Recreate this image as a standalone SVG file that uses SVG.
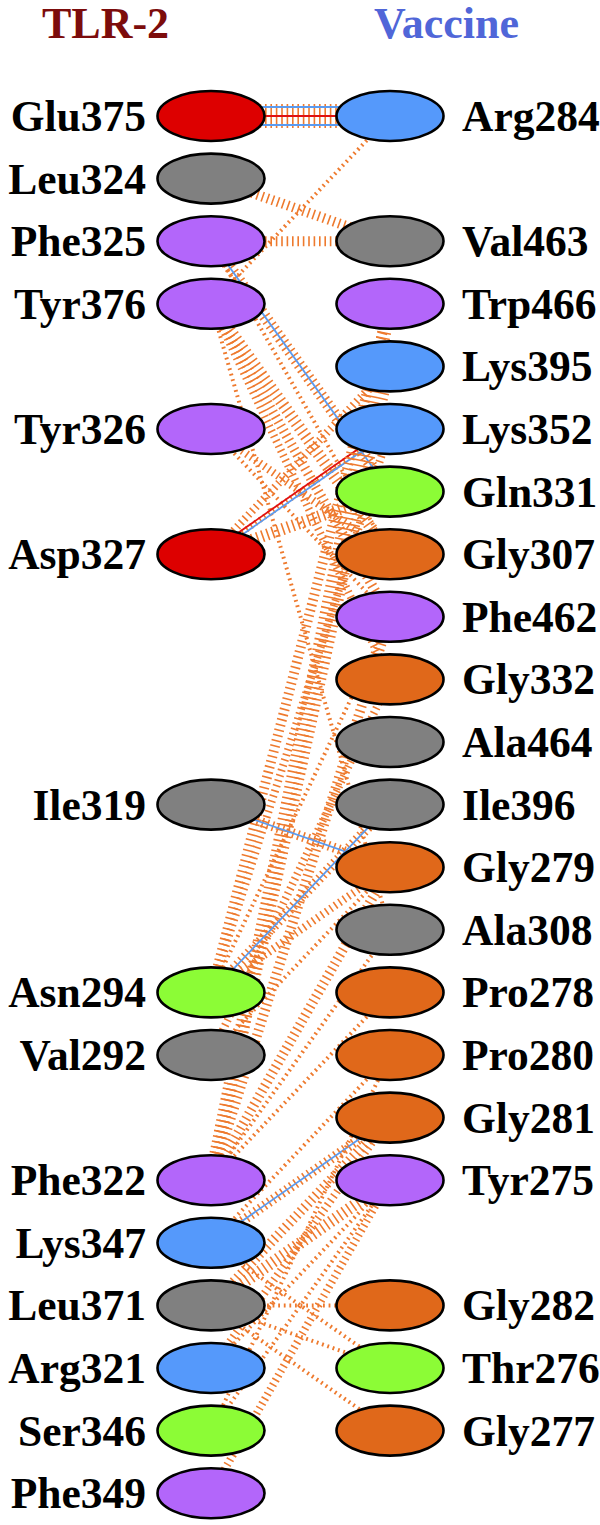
<svg xmlns="http://www.w3.org/2000/svg" width="600" height="1525" viewBox="0 0 600 1525">
<style>
.t{stroke:#ee7a2e;fill:none;stroke-dasharray:1.6 3.8}
.d{stroke:#ee7a2e;fill:none;stroke-width:4;stroke-dasharray:1.8 3.8}
.hb{stroke:#5b9bf0;stroke-width:1.8}
.sb{stroke:#e01010;stroke-width:1.8}
.n ellipse{stroke:#000;stroke-width:2.6}
.lbl{font-family:"Liberation Serif","Times New Roman",serif;font-weight:bold;font-size:43.5px;fill:#000}
.L{text-anchor:end}
.red{fill:#dd0000}.blu{fill:#5599fb}.gry{fill:#808080}.pur{fill:#b366fa}.grn{fill:#8cfc36}.org{fill:#e0681a}
.title{font-family:"Liberation Serif","Times New Roman",serif;font-weight:bold;font-size:44px}
</style>
<rect width="600" height="1525" fill="#fff"/>
<text class="title" x="42" y="38" fill="#7c0c0c">TLR-2</text>
<text class="title" x="374" y="38" fill="#5066d8">Vaccine</text>
<g id="connectors">
<line class="t" x1="211" y1="116" x2="390" y2="116" stroke-width="24"/>
<line class="hb" x1="211" y1="107" x2="390" y2="107"/>
<line class="hb" x1="211" y1="125" x2="390" y2="125"/>
<line class="sb" x1="211" y1="116" x2="390" y2="116"/>
<line class="d" x1="211" y1="303.8" x2="390" y2="116"/>
<line class="t" x1="211" y1="178.6" x2="390" y2="241.2" stroke-width="10"/>
<line class="t" x1="211" y1="241.2" x2="390" y2="241.2" stroke-width="10"/>
<line class="t" x1="211" y1="241.2" x2="390" y2="491.6" stroke-width="12"/>
<line class="hb" x1="211" y1="241.2" x2="390" y2="491.6"/>
<line class="d" x1="211" y1="241.2" x2="390" y2="554.2"/>
<line class="t" x1="211" y1="303.8" x2="390" y2="554.2" stroke-width="12"/>
<line class="t" x1="211" y1="303.8" x2="390" y2="616.8" stroke-width="10"/>
<line class="t" x1="211" y1="303.8" x2="390" y2="679.4" stroke-width="8"/>
<line class="d" x1="211" y1="303.8" x2="390" y2="929.8"/>
<line class="t" x1="211" y1="554.2" x2="390" y2="491.6" stroke-width="12"/>
<line class="t" x1="211" y1="429" x2="390" y2="554.2" stroke-width="8"/>
<line class="d" x1="211" y1="429" x2="390" y2="616.8"/>
<line class="t" x1="211" y1="554.2" x2="390" y2="366.4" stroke-width="8"/>
<line class="t" x1="211" y1="554.2" x2="390" y2="429" stroke-width="6"/>
<line class="sb" x1="209.9" y1="552.6" x2="388.9" y2="427.4"/>
<line class="hb" x1="212.1" y1="555.8" x2="391.1" y2="430.6"/>
<line class="t" x1="211" y1="1180.2" x2="390" y2="303.8" stroke-width="14"/>
<line class="t" x1="211" y1="1180.2" x2="390" y2="366.4" stroke-width="10"/>
<line class="t" x1="211" y1="992.4" x2="390" y2="303.8" stroke-width="10"/>
<line class="t" x1="211" y1="992.4" x2="390" y2="429" stroke-width="8"/>
<line class="t" x1="211" y1="1180.2" x2="390" y2="616.8" stroke-width="10"/>
<line class="t" x1="211" y1="1055" x2="390" y2="679.4" stroke-width="8"/>
<line class="d" x1="211" y1="992.4" x2="390" y2="616.8"/>
<line class="t" x1="211" y1="804.6" x2="390" y2="867.2" stroke-width="10"/>
<line class="hb" x1="211" y1="804.6" x2="390" y2="867.2"/>
<line class="t" x1="211" y1="992.4" x2="390" y2="804.6" stroke-width="10"/>
<line class="hb" x1="211" y1="992.4" x2="390" y2="804.6"/>
<line class="t" x1="211" y1="992.4" x2="390" y2="867.2" stroke-width="8"/>
<line class="d" x1="211" y1="1055" x2="390" y2="867.2"/>
<line class="t" x1="211" y1="1180.2" x2="390" y2="867.2" stroke-width="10"/>
<line class="d" x1="211" y1="1180.2" x2="390" y2="929.8"/>
<line class="d" x1="211" y1="1180.2" x2="390" y2="992.4"/>
<line class="d" x1="211" y1="1242.8" x2="390" y2="1055"/>
<line class="t" x1="211" y1="1242.8" x2="390" y2="1117.6" stroke-width="10"/>
<line class="hb" x1="211" y1="1242.8" x2="390" y2="1117.6"/>
<line class="d" x1="211" y1="1305.4" x2="390" y2="1305.4"/>
<line class="d" x1="211" y1="1305.4" x2="390" y2="1368"/>
<line class="d" x1="211" y1="1305.4" x2="390" y2="1430.6"/>
<line class="t" x1="211" y1="1305.4" x2="390" y2="1180.2" stroke-width="12"/>
<line class="t" x1="211" y1="1305.4" x2="390" y2="1117.6" stroke-width="10"/>
<line class="t" x1="211" y1="1368" x2="390" y2="1117.6" stroke-width="8"/>
<line class="d" x1="211" y1="1368" x2="390" y2="1180.2"/>
<line class="d" x1="211" y1="1430.6" x2="390" y2="1055"/>
<line class="d" x1="211" y1="1430.6" x2="390" y2="1180.2"/>
<line class="t" x1="211" y1="1493.2" x2="390" y2="1180.2" stroke-width="8"/>
<line class="d" x1="211" y1="1242.8" x2="390" y2="1368"/>
</g>
<g id="n-Glu375" class="n"><ellipse class="red" cx="211" cy="116" rx="53.5" ry="25"/><text class="lbl L" x="146" y="131">Glu375</text></g>
<g id="n-Leu324" class="n"><ellipse class="gry" cx="211" cy="178.6" rx="53.5" ry="25"/><text class="lbl L" x="146" y="193.6">Leu324</text></g>
<g id="n-Phe325" class="n"><ellipse class="pur" cx="211" cy="241.2" rx="53.5" ry="25"/><text class="lbl L" x="146" y="256.2">Phe325</text></g>
<g id="n-Tyr376" class="n"><ellipse class="pur" cx="211" cy="303.8" rx="53.5" ry="25"/><text class="lbl L" x="146" y="318.8">Tyr376</text></g>
<g id="n-Tyr326" class="n"><ellipse class="pur" cx="211" cy="429" rx="53.5" ry="25"/><text class="lbl L" x="146" y="444">Tyr326</text></g>
<g id="n-Asp327" class="n"><ellipse class="red" cx="211" cy="554.2" rx="53.5" ry="25"/><text class="lbl L" x="146" y="569.2">Asp327</text></g>
<g id="n-Ile319" class="n"><ellipse class="gry" cx="211" cy="804.6" rx="53.5" ry="25"/><text class="lbl L" x="146" y="819.6">Ile319</text></g>
<g id="n-Asn294" class="n"><ellipse class="grn" cx="211" cy="992.4" rx="53.5" ry="25"/><text class="lbl L" x="146" y="1007.4">Asn294</text></g>
<g id="n-Val292" class="n"><ellipse class="gry" cx="211" cy="1055" rx="53.5" ry="25"/><text class="lbl L" x="146" y="1070">Val292</text></g>
<g id="n-Phe322" class="n"><ellipse class="pur" cx="211" cy="1180.2" rx="53.5" ry="25"/><text class="lbl L" x="146" y="1195.2">Phe322</text></g>
<g id="n-Lys347" class="n"><ellipse class="blu" cx="211" cy="1242.8" rx="53.5" ry="25"/><text class="lbl L" x="146" y="1257.8">Lys347</text></g>
<g id="n-Leu371" class="n"><ellipse class="gry" cx="211" cy="1305.4" rx="53.5" ry="25"/><text class="lbl L" x="146" y="1320.4">Leu371</text></g>
<g id="n-Arg321" class="n"><ellipse class="blu" cx="211" cy="1368" rx="53.5" ry="25"/><text class="lbl L" x="146" y="1383">Arg321</text></g>
<g id="n-Ser346" class="n"><ellipse class="grn" cx="211" cy="1430.6" rx="53.5" ry="25"/><text class="lbl L" x="146" y="1445.6">Ser346</text></g>
<g id="n-Phe349" class="n"><ellipse class="pur" cx="211" cy="1493.2" rx="53.5" ry="25"/><text class="lbl L" x="146" y="1508.2">Phe349</text></g>
<g id="n-Arg284" class="n"><ellipse class="blu" cx="390" cy="116" rx="53.5" ry="25"/><text class="lbl" x="462" y="131">Arg284</text></g>
<g id="n-Val463" class="n"><ellipse class="gry" cx="390" cy="241.2" rx="53.5" ry="25"/><text class="lbl" x="462" y="256.2">Val463</text></g>
<g id="n-Trp466" class="n"><ellipse class="pur" cx="390" cy="303.8" rx="53.5" ry="25"/><text class="lbl" x="462" y="318.8">Trp466</text></g>
<g id="n-Lys395" class="n"><ellipse class="blu" cx="390" cy="366.4" rx="53.5" ry="25"/><text class="lbl" x="462" y="381.4">Lys395</text></g>
<g id="n-Lys352" class="n"><ellipse class="blu" cx="390" cy="429" rx="53.5" ry="25"/><text class="lbl" x="462" y="444">Lys352</text></g>
<g id="n-Gln331" class="n"><ellipse class="grn" cx="390" cy="491.6" rx="53.5" ry="25"/><text class="lbl" x="462" y="506.6">Gln331</text></g>
<g id="n-Gly307" class="n"><ellipse class="org" cx="390" cy="554.2" rx="53.5" ry="25"/><text class="lbl" x="462" y="569.2">Gly307</text></g>
<g id="n-Phe462" class="n"><ellipse class="pur" cx="390" cy="616.8" rx="53.5" ry="25"/><text class="lbl" x="462" y="631.8">Phe462</text></g>
<g id="n-Gly332" class="n"><ellipse class="org" cx="390" cy="679.4" rx="53.5" ry="25"/><text class="lbl" x="462" y="694.4">Gly332</text></g>
<g id="n-Ala464" class="n"><ellipse class="gry" cx="390" cy="742" rx="53.5" ry="25"/><text class="lbl" x="462" y="757">Ala464</text></g>
<g id="n-Ile396" class="n"><ellipse class="gry" cx="390" cy="804.6" rx="53.5" ry="25"/><text class="lbl" x="462" y="819.6">Ile396</text></g>
<g id="n-Gly279" class="n"><ellipse class="org" cx="390" cy="867.2" rx="53.5" ry="25"/><text class="lbl" x="462" y="882.2">Gly279</text></g>
<g id="n-Ala308" class="n"><ellipse class="gry" cx="390" cy="929.8" rx="53.5" ry="25"/><text class="lbl" x="462" y="944.8">Ala308</text></g>
<g id="n-Pro278" class="n"><ellipse class="org" cx="390" cy="992.4" rx="53.5" ry="25"/><text class="lbl" x="462" y="1007.4">Pro278</text></g>
<g id="n-Pro280" class="n"><ellipse class="org" cx="390" cy="1055" rx="53.5" ry="25"/><text class="lbl" x="462" y="1070">Pro280</text></g>
<g id="n-Gly281" class="n"><ellipse class="org" cx="390" cy="1117.6" rx="53.5" ry="25"/><text class="lbl" x="462" y="1132.6">Gly281</text></g>
<g id="n-Tyr275" class="n"><ellipse class="pur" cx="390" cy="1180.2" rx="53.5" ry="25"/><text class="lbl" x="462" y="1195.2">Tyr275</text></g>
<g id="n-Gly282" class="n"><ellipse class="org" cx="390" cy="1305.4" rx="53.5" ry="25"/><text class="lbl" x="462" y="1320.4">Gly282</text></g>
<g id="n-Thr276" class="n"><ellipse class="grn" cx="390" cy="1368" rx="53.5" ry="25"/><text class="lbl" x="462" y="1383">Thr276</text></g>
<g id="n-Gly277" class="n"><ellipse class="org" cx="390" cy="1430.6" rx="53.5" ry="25"/><text class="lbl" x="462" y="1445.6">Gly277</text></g>
</svg>
